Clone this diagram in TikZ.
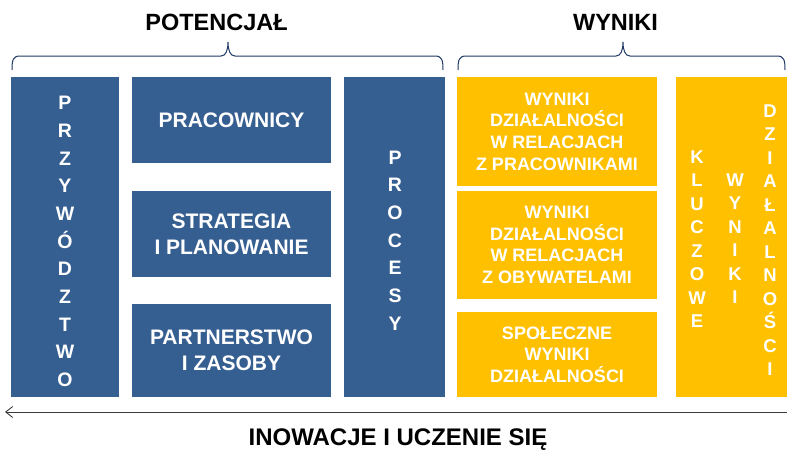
\documentclass[tikz,border=0pt]{standalone}
\usepackage{fontspec}
\setmainfont{Liberation Sans}
\usetikzlibrary{arrows.meta}
\definecolor{boxblue}{RGB}{54,95,145}
\definecolor{boxyellow}{RGB}{255,192,0}
\definecolor{bracecol}{RGB}{31,56,100}
\definecolor{arrowcol}{RGB}{60,60,60}
\tikzset{
  bluebox/.style={fill=boxblue, draw=none, text=white, inner sep=0pt, align=center,
    font=\bfseries\fontsize{21}{26}\selectfont},
  yellowbox/.style={fill=boxyellow, draw=none, text=white, inner sep=0pt, align=center,
    font=\bfseries\fontsize{18}{21.7}\selectfont},
  vertblue/.style={text=white, inner sep=0pt, align=center,
    font=\bfseries\fontsize{19.5}{27.7}\selectfont},
  vertyellow/.style={text=white, inner sep=0pt, align=center,
    font=\bfseries\fontsize{18.5}{23.5}\selectfont},
  titletext/.style={text=black, inner sep=0pt, font=\bfseries\fontsize{23.5}{28}\selectfont},
  bottomtext/.style={text=black, inner sep=0pt, font=\bfseries\fontsize{24}{28}\selectfont},
  bracepath/.style={draw=bracecol, line width=1pt},
}
\begin{document}
\begin{tikzpicture}[x=1pt, y=-1pt]
\useasboundingbox (0,0) rectangle (787,451);

% titles
\node[titletext] (potencjal) at (216.5,22) {POTENCJAŁ};
\node[titletext] (wyniki) at (615.5,22) {WYNIKI};

% braces
\draw[bracepath] (12,70) .. controls (12,60) and (13,56) .. (20,56) -- (221,56)
  .. controls (226,56) and (228,50) .. (228,42)
  .. controls (228,50) and (230,56) .. (235,56) -- (435,56)
  .. controls (442,56) and (443,60) .. (443,70);
\draw[bracepath] (458,70) .. controls (458,60) and (459,56) .. (466,56) -- (616,56)
  .. controls (621,56) and (623,50) .. (623,42)
  .. controls (623,50) and (625,56) .. (630,56) -- (777,56)
  .. controls (784,56) and (785,60) .. (785,70);

% blue column boxes
\node[bluebox, minimum width=108pt, minimum height=320pt] (przyw) at (65,237) {};
\node[vertblue] (przywtext) at (65,241.5) {P\\R\\Z\\Y\\W\\Ó\\D\\Z\\T\\W\\O};

\node[bluebox, minimum width=199pt, minimum height=86pt] (pracownicy) at (231.5,120) {PRACOWNICY};
\node[bluebox, minimum width=199pt, minimum height=86pt] (strategia) at (231.5,234) {STRATEGIA\\I PLANOWANIE};
\node[bluebox, minimum width=199pt, minimum height=93pt] (partnerstwo) at (231.5,350.5) {PARTNERSTWO\\I ZASOBY};

\node[bluebox, minimum width=101pt, minimum height=320pt] (procesy) at (394.5,237) {};
\node[vertblue] (procesytext) at (395,240.5) {P\\R\\O\\C\\E\\S\\Y};

% yellow boxes
\node[yellowbox, minimum width=200pt, minimum height=109pt] (wpracownicy) at (557,131.5)
  {WYNIKI\\DZIAŁALNOŚCI\\W RELACJACH\\Z PRACOWNIKAMI};
\node[yellowbox, minimum width=200pt, minimum height=108pt] (wobywatele) at (557,245)
  {WYNIKI\\DZIAŁALNOŚCI\\W RELACJACH\\Z OBYWATELAMI};
\node[yellowbox, minimum width=200pt, minimum height=85pt] (wspoleczne) at (557,354.5)
  {SPOŁECZNE\\WYNIKI\\DZIAŁALNOŚCI};

\node[yellowbox, minimum width=111pt, minimum height=320pt] (kluczowe) at (731.5,237) {};
\node[vertyellow] (kluczowetext) at (697,239) {K\\L\\U\\C\\Z\\O\\W\\E};
\node[vertyellow] (wynikitext) at (735,238.5) {W\\Y\\N\\I\\K\\I};
\node[vertyellow] (dzialtext) at (770,240) {D\\Z\\I\\A\\Ł\\A\\L\\N\\O\\Ś\\C\\I};

% bottom arrow
\coordinate (arrowR) at (787,412);
\coordinate (arrowL) at (5,412);
\draw[draw=arrowcol, line width=0.9pt, -{Straight Barb[length=7pt, width=11pt, line width=0.9pt]}] (arrowR) -- (arrowL);

\node[bottomtext] (inowacje) at (398,440) {INOWACJE I UCZENIE SIĘ};
\end{tikzpicture}
\end{document}
